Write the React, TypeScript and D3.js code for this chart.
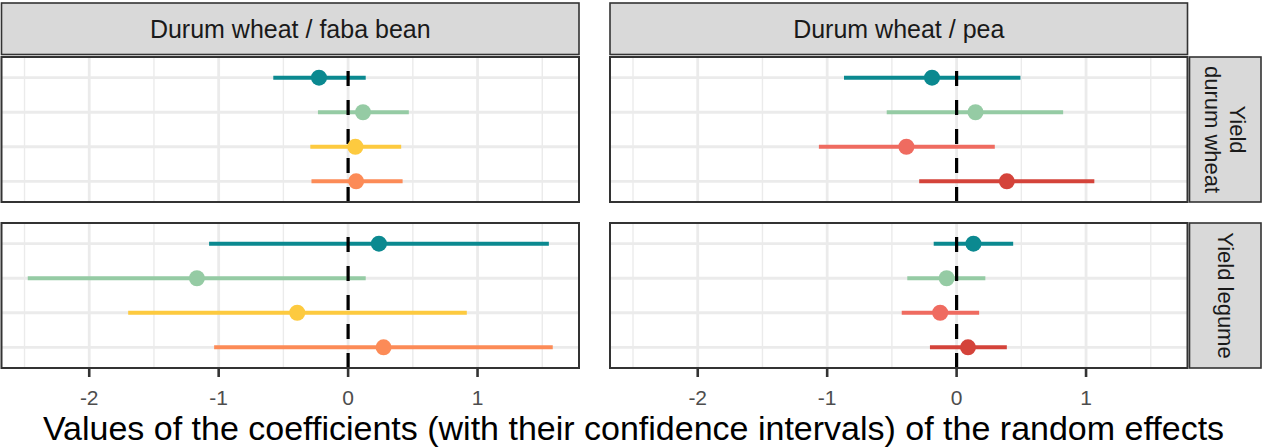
import React from "react";
import * as d3 from "d3";

// Facets: columns are intercrops, rows are the response variables
const intercrops = ["Durum wheat / faba bean", "Durum wheat / pea"];
const responses = [["Yield", "durum wheat"], ["Yield legume"]];

// Four random effects per panel, listed top to bottom
const effectRows = ["e1", "e2", "e3", "e4"];

// Durum wheat / faba bean — yield of durum wheat
const wheatFabaEst = [-0.225, 0.115, 0.056, 0.062];
const wheatFabaLow = [-0.578, -0.233, -0.292, -0.283];
const wheatFabaHigh = [0.136, 0.469, 0.41, 0.421];
// Durum wheat / faba bean — yield of legume
const legumeFabaEst = [0.238, -1.168, -0.393, 0.274];
const legumeFabaLow = [-1.074, -2.475, -1.699, -1.035];
const legumeFabaHigh = [1.551, 0.136, 0.917, 1.581];
// Durum wheat / pea — yield of durum wheat
const wheatPeaEst = [-0.19, 0.146, -0.388, 0.388];
const wheatPeaLow = [-0.87, -0.54, -1.064, -0.289];
const wheatPeaHigh = [0.493, 0.823, 0.295, 1.064];
// Durum wheat / pea — yield of legume
const legumePeaEst = [0.13, -0.077, -0.127, 0.088];
const legumePeaLow = [-0.177, -0.381, -0.424, -0.206];
const legumePeaHigh = [0.437, 0.222, 0.174, 0.388];

const fabaColors = ["#0B8990", "#95CBA4", "#FDCA3F", "#FC8B57"];
const peaColors = ["#0B8990", "#95CBA4", "#EF6B60", "#D4433A"];

const majorTicks = [-2, -1, 0, 1];
const minorTicks = [-2.5, -1.5, -0.5, 0.5, 1.5];

const axisTitle =
  "Values of the coefficients (with their confidence intervals) of the random effects";

type Panel = { est: number[]; low: number[]; high: number[]; colors: string[] };

// panels[row][col]
const panels: Panel[][] = [
  [
    { est: wheatFabaEst, low: wheatFabaLow, high: wheatFabaHigh, colors: fabaColors },
    { est: wheatPeaEst, low: wheatPeaLow, high: wheatPeaHigh, colors: peaColors },
  ],
  [
    { est: legumeFabaEst, low: legumeFabaLow, high: legumeFabaHigh, colors: fabaColors },
    { est: legumePeaEst, low: legumePeaLow, high: legumePeaHigh, colors: peaColors },
  ],
];

const W = 1267;
const H = 447;
const FONT = "'Liberation Sans', Arial, Helvetica, sans-serif";

const colLeft = [1.5, 610];
const panelW = 577.5;
const rowTop = [57, 223];
const panelH = 145;
const stripTop = 3;
const stripBottom = 54.5;
const rowStripX0 = 1189.5;
const rowStripX1 = 1261;

const allLow = [wheatFabaLow, legumeFabaLow, wheatPeaLow, legumePeaLow].flat();
const allHigh = [wheatFabaHigh, legumeFabaHigh, wheatPeaHigh, legumePeaHigh].flat();
const dMin = d3.min(allLow) as number;
const dMax = d3.max(allHigh) as number;
const pad = (dMax - dMin) * 0.05;

export default function App() {
  const gridColor = "#EBEBEB";
  const borderColor = "#333333";

  return (
    <svg
      width={W}
      height={H}
      viewBox={`0 0 ${W} ${H}`}
      style={{ position: "absolute", left: 0, top: 0, background: "#fff" }}
      fontFamily={FONT}
    >
      <rect x={0} y={0} width={W} height={H} fill="#fff" />

      {/* column strips */}
      {intercrops.map((label, ci) => (
        <g key={`cs-${ci}`}>
          <rect
            x={colLeft[ci]}
            y={stripTop}
            width={panelW}
            height={stripBottom - stripTop}
            fill="#D9D9D9"
            stroke={borderColor}
            strokeWidth={1.6}
          />
          <text
            x={colLeft[ci] + panelW / 2}
            y={(stripTop + stripBottom) / 2}
            dy="0.35em"
            textAnchor="middle"
            fontSize={25}
            fill="#1A1A1A"
          >
            {label}
          </text>
        </g>
      ))}

      {/* row strips */}
      {responses.map((lines, ri) => {
        const cy = rowTop[ri] + panelH / 2;
        const cx = (rowStripX0 + rowStripX1) / 2;
        const lh = 25;
        return (
          <g key={`rs-${ri}`}>
            <rect
              x={rowStripX0}
              y={rowTop[ri]}
              width={rowStripX1 - rowStripX0}
              height={panelH}
              fill="#D9D9D9"
              stroke={borderColor}
              strokeWidth={1.6}
            />
            <g transform={`translate(${cx},${cy}) rotate(90)`}>
              {lines.map((t, li) => (
                <text
                  key={li}
                  x={0}
                  y={(li - (lines.length - 1) / 2) * lh}
                  dy="0.35em"
                  textAnchor="middle"
                  fontSize={22}
                  fill="#1A1A1A"
                >
                  {t}
                </text>
              ))}
            </g>
          </g>
        );
      })}

      {/* panels */}
      {panels.map((row, ri) =>
        row.map((p, ci) => {
          const x = d3
            .scaleLinear()
            .domain([dMin - pad, dMax + pad])
            .range([colLeft[ci], colLeft[ci] + panelW]);
          const y = d3
            .scalePoint<string>()
            .domain(effectRows)
            .range([rowTop[ri], rowTop[ri] + panelH])
            .padding(0.6);
          const top = rowTop[ri];
          const bottom = rowTop[ri] + panelH;
          return (
            <g key={`p-${ri}-${ci}`}>
              <rect x={colLeft[ci]} y={top} width={panelW} height={panelH} fill="#fff" />
              {minorTicks.map((t) => (
                <line
                  key={`mn-${t}`}
                  x1={x(t)}
                  x2={x(t)}
                  y1={top}
                  y2={bottom}
                  stroke={gridColor}
                  strokeWidth={1.4}
                />
              ))}
              {majorTicks.map((t) => (
                <line
                  key={`mj-${t}`}
                  x1={x(t)}
                  x2={x(t)}
                  y1={top}
                  y2={bottom}
                  stroke={gridColor}
                  strokeWidth={2.8}
                />
              ))}
              {effectRows.map((e) => (
                <line
                  key={`hg-${e}`}
                  x1={colLeft[ci]}
                  x2={colLeft[ci] + panelW}
                  y1={y(e)}
                  y2={y(e)}
                  stroke={gridColor}
                  strokeWidth={2.8}
                />
              ))}
              {effectRows.map((e, i) => (
                <line
                  key={`ci-${e}`}
                  x1={x(p.low[i])}
                  x2={x(p.high[i])}
                  y1={y(e)}
                  y2={y(e)}
                  stroke={p.colors[i]}
                  strokeWidth={4}
                />
              ))}
              {/* reference line at zero, dashes start at the panel bottom */}
              <line
                x1={x(0)}
                x2={x(0)}
                y1={bottom}
                y2={top}
                stroke="#000"
                strokeWidth={3.2}
                strokeDasharray="15,14"
              />
              {effectRows.map((e, i) => (
                <circle
                  key={`pt-${e}`}
                  cx={x(p.est[i])}
                  cy={y(e)}
                  r={8}
                  fill={p.colors[i]}
                />
              ))}
              <rect
                x={colLeft[ci]}
                y={top}
                width={panelW}
                height={panelH}
                fill="none"
                stroke={borderColor}
                strokeWidth={2}
              />
              {ri === panels.length - 1 &&
                majorTicks.map((t) => (
                  <g key={`tk-${t}`}>
                    <line
                      x1={x(t)}
                      x2={x(t)}
                      y1={bottom}
                      y2={bottom + 9}
                      stroke={borderColor}
                      strokeWidth={2.6}
                    />
                    <text
                      x={x(t)}
                      y={bottom + 30}
                      dy="0.35em"
                      textAnchor="middle"
                      fontSize={21}
                      fill="#4D4D4D"
                    >
                      {t}
                    </text>
                  </g>
                ))}
            </g>
          );
        })
      )}

      {/* x-axis title, centred on the full figure width */}
      <text
        x={W / 2}
        y={440}
        textAnchor="middle"
        fontSize={34}
        fill="#000"
      >
        {axisTitle}
      </text>
    </svg>
  );
}
